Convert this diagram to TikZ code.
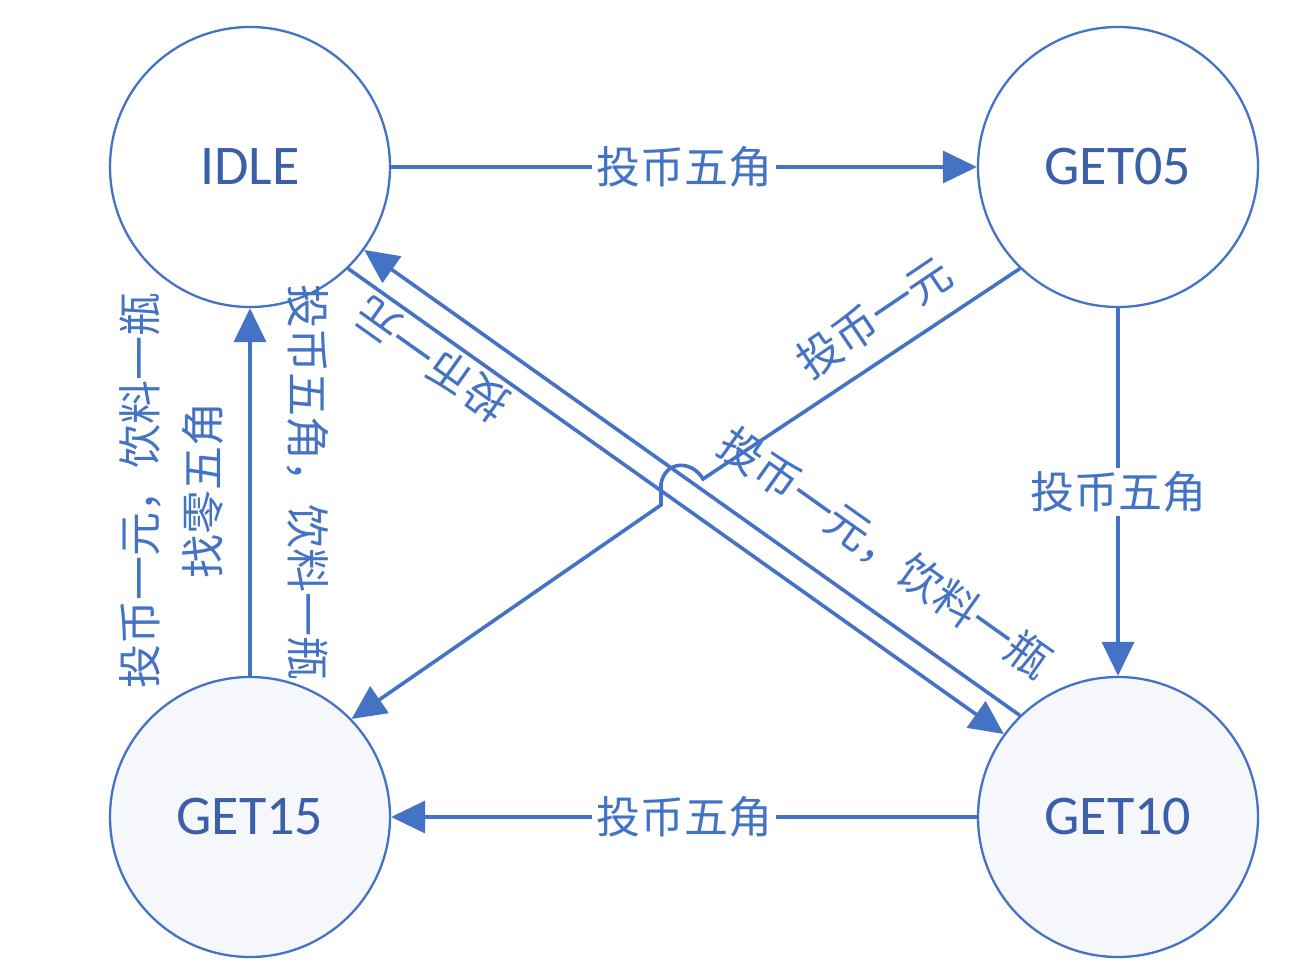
\documentclass[tikz,border=0pt]{standalone}
\usepackage{fontspec}
\setmainfont{Carlito}
\newfontfamily\cjk{Noto Sans CJK SC}
\usetikzlibrary{arrows.meta}
\definecolor{ln}{HTML}{4472C4}
\definecolor{tx}{HTML}{3B5FA9}
\definecolor{shade}{HTML}{F6F7FB}
\begin{document}
\begin{tikzpicture}[x=0.5pt,y=-0.5pt,
  state/.style={circle,draw=ln,line width=1.15pt,minimum size=140pt,inner sep=0pt,
    font=\fontsize{28}{30}\selectfont,text=tx},
  edge/.style={draw=ln,line width=1.8pt,-{Triangle[length=17pt,width=16pt]}},
  lbl/.style={font=\cjk\fontsize{22}{31.5}\selectfont,text=ln,inner sep=1pt},
  lblbg/.style={lbl,fill=white,inner sep=2pt}]
\useasboundingbox (0,0) rectangle (1311,974);
\node[state,fill=white] (IDLE)  at (250,167) {IDLE};
\node[state,fill=white] (GET05) at (1118,167) {GET05};
\node[state,fill=shade] (GET15) at (250,817) {GET15};
\node[state,fill=shade] (GET10) at (1118,817) {GET10};

\draw[edge] (IDLE) -- node[lblbg] (l1) {投币五角} (GET05);
\draw[edge] (GET10) -- node[lblbg] (l2) {投币五角} (GET15);
\draw[edge] (GET05) -- node[lblbg] (l3) {投币五角} (GET10);
\draw[edge] (GET15) -- (IDLE);

\node[lbl,rotate=90,align=center] (l4) at (171,490) {投币一元，饮料一瓶\\找零五角};
\node[lbl,rotate=-90] (l5) at (308,482) {投币五角，饮料一瓶};

\draw[edge] (IDLE.-46) -- (GET10.144);
\draw[edge] (GET10.134.7) -- (IDLE.-36.5);
\node[lbl,rotate=144.6] (l6) at (432,360) {投币一元};
\node[lbl,rotate=-35.4] (l7) at (885,553) {投币一元，饮料一瓶};

\coordinate (h1) at (703,479);
\coordinate (h2) at (661,505);
\draw[edge] (GET05.-134.4) -- (h1) .. controls (692,460) and (665,460) .. (661,484) -- (h2) -- (GET15.44.7);
\node[lbl,rotate=34] (l8) at (874,317) {投币一元};
\end{tikzpicture}
\end{document}
